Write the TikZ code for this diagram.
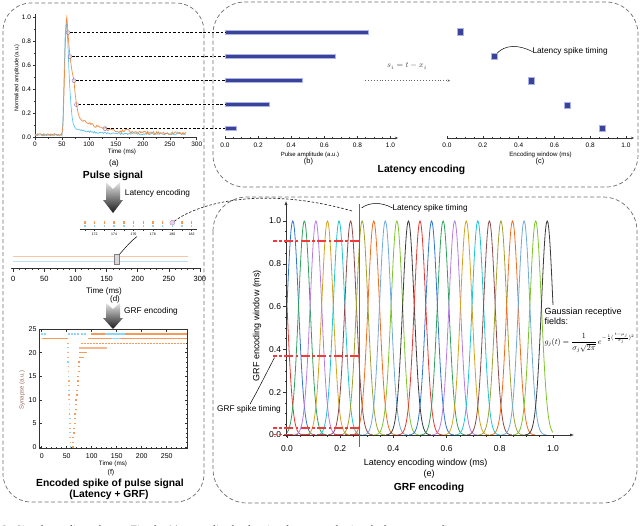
\documentclass[tikz,border=0pt]{standalone}
\usepackage{amsmath}
\usepackage{graphicx}
\usepackage{fontspec}
\setmainfont{Liberation Sans}
\newfontfamily\capfont{Liberation Serif}
\usetikzlibrary{arrows.meta}
\newcommand{\fsz}[1]{\fontsize{#1}{#1}\selectfont}
\definecolor{panelgray}{HTML}{6E6E6E}
\definecolor{barblue}{HTML}{3B4399}
\definecolor{baredge}{HTML}{A9B2EA}
\definecolor{sigO}{HTML}{F28C45}
\definecolor{sigB}{HTML}{5EC4F0}
\definecolor{spkO}{HTML}{F39A5A}
\definecolor{spkB}{HTML}{8ED4F4}
\definecolor{lineO}{HTML}{F7C59F}
\definecolor{lineB}{HTML}{B8E2F4}
\definecolor{purp}{HTML}{8B4D9C}
\definecolor{redl}{HTML}{F23A3A}
\definecolor{circ}{HTML}{8A86C8}
\definecolor{synl}{HTML}{9A6A60}
\definecolor{gc0}{HTML}{E8352F}
\definecolor{gc1}{HTML}{2F74D0}
\definecolor{gc2}{HTML}{2EA05A}
\definecolor{gc3}{HTML}{B57BE6}
\definecolor{gc4}{HTML}{D4A21C}
\definecolor{gc5}{HTML}{1DC3CF}
\definecolor{gc6}{HTML}{8A4B4B}
\definecolor{gc7}{HTML}{A0A030}
\definecolor{gc8}{HTML}{F26B1D}
\definecolor{gc9}{HTML}{6FA8DC}
\definecolor{gc10}{HTML}{7CC42A}
\definecolor{gc11}{HTML}{3A3A3A}
\begin{document}
\begin{tikzpicture}[x=1pt,y=-1pt,
  every node/.style={inner sep=0pt, outer sep=0pt},
  panel/.style={draw=panelgray, dash pattern=on 4pt off 2.5pt, line width=0.7pt},
  ax/.style={line width=0.5pt, black!80},
  hdash/.style={black, dash pattern=on 2.5pt off 1.8pt, line width=0.8pt},
  bar/.style={fill=barblue, draw=baredge, line width=0.6pt, minimum height=4pt, anchor=west},
  sq/.style={fill=barblue, draw=baredge, line width=0.5pt, minimum size=6.5pt},
  tinyl/.style={font=\fsz{3.5}},
  ticka/.style={font=\fsz{6.5}},
  tickd/.style={font=\fsz{7.5}},
  tickg/.style={font=\fsz{8.5}},
  lbl/.style={font=\fsz{8.3}},
  lblg/.style={font=\fsz{9}},
  ttl/.style={font=\bfseries\fsz{10.3}},
  garrow/.style={top color=gray!20, bottom color=black!90},
  redline/.style={redl, line width=1.4pt, dash pattern=on 9pt off 2.5pt on 2.5pt off 2.5pt},
  conn/.style={black, line width=0.5pt}
]
\useasboundingbox (0,0) rectangle (640,525);

% ---------------- panels ----------------
\draw[panel, rounded corners=28pt] (3,3) rectangle (204,502);
\draw[panel, rounded corners=32pt] (213,2) rectangle (638,187);
\draw[panel, rounded corners=34pt] (213,197) rectangle (637,503);

% ---------------- (a) pulse signal ----------------
\draw[ax] (35,137) -- (35,14);
\draw[ax] (35,137) -- (197,137);
\foreach \i in {0,...,10} \draw[ax] (35,{137-12*\i}) -- ++(-1.5,0);
\foreach \i/\l in {0/0.0,1/0.2,2/0.4,3/0.6,4/0.8,5/1.0} {
  \draw[ax] (35,{137-24*\i}) -- ++(-2.5,0);
  \node[ticka, anchor=east] (ya\i) at (31,{137-24*\i}) {\l};
}
\foreach \i in {0,...,12} \draw[ax] ({35+13.475*\i},137) -- ++(0,1.5);
\foreach \i/\l in {0/0,1/50,2/100,3/150,4/200,5/250,6/300} {
  \draw[ax] ({35+26.95*\i},137) -- ++(0,2.5);
  \node[ticka] (xa\i) at ({35+26.95*\i},144.5) {\l};
}
\node[rotate=90, font=\fsz{5.5}] (yla) at (17,78) {Normalized amplitude (a.u.)};
\node[font=\fsz{6.3}] (xla) at (122,152) {Time (ms)};
\node[font=\fsz{8}] (capa) at (114,163.5) {(a)};
\node[ttl] (ttla) at (113,176) {Pulse signal};

\pgfmathsetseed{11}
% blue signal
\draw[sigB, line width=0.7pt]
  plot[domain=0:50, samples=45] ({35+0.539*\x},{137-120*(0.015+0.006*rand)})
  -- plot coordinates {({35+0.539*52},{137-120*0.15}) ({35+0.539*54},{137-120*0.5}) ({35+0.539*56},{137-120*0.85})
     ({35+0.539*58},{137-120*0.95}) ({35+0.539*59},{137-120*0.93}) ({35+0.539*61},{137-120*0.78})
     ({35+0.539*63},{137-120*0.55}) ({35+0.539*65},{137-120*0.38}) ({35+0.539*67},{137-120*0.25})
     ({35+0.539*69},{137-120*0.16}) ({35+0.539*71},{137-120*0.11}) ({35+0.539*74},{137-120*0.08})}
  -- plot[domain=77:280, samples=110] ({35+0.539*\x},{137-120*(0.025+0.045*exp(-(\x-77)/30)+0.007*rand)});
% orange signal
\draw[sigO, line width=0.7pt]
  plot[domain=0:50, samples=45] ({35+0.539*\x},{137-120*(0.022+0.007*rand)})
  -- plot coordinates {({35+0.539*52},{137-120*0.1}) ({35+0.539*54},{137-120*0.4}) ({35+0.539*56},{137-120*0.75})
     ({35+0.539*58},{137-120*0.97}) ({35+0.539*59},{137-120*1.0}) ({35+0.539*60},{137-120*0.95})
     ({35+0.539*61.2},{137-120*0.87}) ({35+0.539*63},{137-120*0.76}) ({35+0.539*65},{137-120*0.67})
     ({35+0.539*67},{137-120*0.6}) ({35+0.539*69},{137-120*0.54}) ({35+0.539*72.4},{137-120*0.47})
     ({35+0.539*74},{137-120*0.38}) ({35+0.539*77},{137-120*0.27}) ({35+0.539*80},{137-120*0.2})}
  -- plot[domain=82:280, samples=110] ({35+0.539*\x},{137-120*(0.03+0.14*exp(-(\x-80)/40)+0.012*rand+0.03*exp(-((\x-170)/3)^2))});

\foreach \i/\x/\y in {1/68/32.6, 2/70/56.6, 3/74/80.6, 4/76.5/104.6, 5/105/128.6}
  \node[circle, draw=circ, line width=0.5pt, minimum size=4pt] (c\i) at (\x,\y) {};

% ---------------- (b) bars ----------------
\foreach \i/\v/\y in {1/0.87/32.6, 2/0.67/56.6, 3/0.47/80.6, 4/0.27/104.6, 5/0.07/128.6}
  \node[bar, minimum width={165*\v}] (b\i) at (225,\y) {};
\foreach \i in {1,...,5} \draw[hdash] (c\i) -- (b\i.west);

\draw[ax, -{Stealth[length=3pt,width=2.5pt]}] (225,138) -- (398,138);
\foreach \k in {0,...,20} \draw[ax] ({225+8.275*\k},138) -- ++(0,-1.5);
\foreach \i/\l in {0/0.0,1/0.2,2/0.4,3/0.6,4/0.8,5/1.0} {
  \draw[ax] ({225+33.1*\i},138) -- ++(0,-2.5);
  \node[ticka] (xb\i) at ({225+33.1*\i},145.7) {\l};
}
\node[font=\fsz{6}] (xlb) at (310,155) {Pulse amplitude (a.u.)};
\node[font=\fsz{7.4}] (capb) at (308.5,161.5) {(b)};

% equation and dotted arrow
\node[font=\fsz{8.5}, text=black!70] (eqn) at (407,66) {$s_i = t - x_i$};
\coordinate (da) at (365,80.6);
\coordinate (db) at (450,80.6);
\draw[black!60, dotted, line width=0.9pt, -{Stealth[length=2.5pt,width=2.5pt]}] (da) -- (db);

% ---------------- (c) squares ----------------
\foreach \i/\x/\y in {1/460/31.9, 2/494/56.3, 3/531/80.6, 4/567/105, 5/602/128.4}
  \node[sq] (s\i) at (\x,\y) {};
\draw[ax, -{Stealth[length=3pt,width=2.5pt]}] (447,138) -- (634,138);
\foreach \k in {0,...,20} \draw[ax] ({447+8.95*\k},138) -- ++(0,-1.5);
\foreach \i/\l in {0/0.0,1/0.2,2/0.4,3/0.6,4/0.8,5/1.0} {
  \draw[ax] ({447+35.8*\i},138) -- ++(0,-2.5);
  \node[ticka] (xc\i) at ({447+35.8*\i},145.7) {\l};
}
\node[font=\fsz{6.2}] (xlc) at (540.5,155) {Encoding window (ms)};
\node[font=\fsz{7.4}] (capc) at (540,161.5) {(c)};
\node[lbl, anchor=west] (lst1) at (532.5,51.7) {Latency spike timing};
\draw[conn] (s2.north east) .. controls (505,45) and (518,44) .. (lst1.west);
\node[ttl] (ttlb) at (421.5,170) {Latency encoding};

% ---------------- arrow 1 and (d) ----------------
\shade[garrow] (106,182) -- (113,189) -- (120,182) -- (120,200) -- (123,200) -- (113,213) -- (103,200) -- (106,200) -- cycle;
\node[lbl] (lenc) at (157.5,193.5) {Latency encoding};

\foreach \k in {0,...,11} {
  \pgfmathsetmacro\xx{85+9.7*\k}
  \fill[spkO] (\xx-0.7,221.4) rectangle (\xx+0.7,223.8);
  \fill[spkB] (\xx-0.7,224.6) rectangle (\xx+0.7,226.8);
}
\node[circle, draw=purp!60, fill=purp!25, line width=0.4pt, minimum size=5pt] (hl) at (172.3,222.7) {};
\draw[ax] (80,229.3) -- (197,229.3);
\foreach \k in {0,...,11} \draw[ax] ({85+9.7*\k},229.3) -- ++(0,1.5);
\foreach \i/\l in {0/172,1/174,2/176,3/178,4/180,5/182}
  \node[tinyl] (xs\i) at ({94.7+19.4*\i},234) {\l};

\draw[lineO, line width=1pt] (13.3,256.7) -- (187.5,256.7);
\draw[lineB, line width=1pt] (13.3,261.7) -- (187.5,261.7);
\node[draw=gray, fill=gray!30, line width=0.4pt, minimum width=5.5pt, minimum height=10pt] (zr) at (116.7,259.3) {};
\coordinate (zax) at (137,236.5);
\draw[conn] (zr.north east) .. controls (126,247) and (131,241) .. (zax);

\draw[ax] (11,268) -- (200,268);
\foreach \k in {0,...,30} \draw[ax] ({13.3+6.22*\k},268) -- ++(0,2);
\foreach \i/\l in {0/0,1/50,2/100,3/150,4/200,5/250,6/300} {
  \draw[ax] ({13.3+31.1*\i},268) -- ++(0,3.5);
  \node[tickd] (xd\i) at ({13.3+31.1*\i},278.5) {\l};
}
\node[font=\fsz{8}] (xld) at (104,291) {Time (ms)};
\node[font=\fsz{8}] (capd) at (115,299) {(d)};

% ---------------- arrow 2 and (f) ----------------
\shade[garrow] (106,303) -- (113,309) -- (120,303) -- (120,318) -- (123,318) -- (113,329) -- (103,318) -- (106,318) -- cycle;
\node[lbl] (genc) at (151,311) {GRF encoding};

\draw[ax] (39,329) rectangle (187,448);
\foreach \k in {0,...,28} {
  \draw[ax] ({41.7+5*\k},448) -- ++(0,-1.2);
  \draw[ax] ({41.7+5*\k},329) -- ++(0,1.2);
}
\foreach \i/\l in {0/0,1/50,2/100,3/150,4/200,5/250} {
  \draw[ax] ({41.7+25*\i},448) -- ++(0,-2.5);
  \draw[ax] ({41.7+25*\i},329) -- ++(0,2.5);
  \node[font=\fsz{7}] (xf\i) at ({41.7+25*\i},456) {\l};
}
\foreach \k in {0,...,25} {
  \draw[ax] (39,{447-4.72*\k}) -- ++(1.2,0);
  \draw[ax] (187,{447-4.72*\k}) -- ++(-1.2,0);
}
\foreach \i/\l in {0/0,1/5,2/10,3/15,4/20,5/25} {
  \draw[ax] (39,{447-23.6*\i}) -- ++(2.5,0);
  \draw[ax] (187,{447-23.6*\i}) -- ++(-2.5,0);
  \node[font=\fsz{7}, anchor=east] (yf\i) at (36.5,{447-23.6*\i}) {\l};
}
\node[rotate=90, font=\fsz{6}, text=synl] (ylf) at (22,390) {Synapse (a.u.)};
\node[font=\fsz{6.3}] (xlf) at (113,464) {Time (ms)};
\node[font=\fsz{7}] (capf) at (111,473) {(f)};
\node[ttl] (ttlf1) at (110,483.5) {Encoded spike of pulse signal};
\node[ttl] (ttlf2) at (109,494.5) {(Latency + GRF)};

% raster content
\foreach \t in {1,6,54,60,66,72,80,86} \fill[spkB] ({41.7+0.5*\t-0.8},333.3) rectangle ++(1.6,1.2);
\foreach \t in {100,104,...,288} \fill[spkO] ({41.7+0.5*\t-0.8},333.3) rectangle ++(1.7,1.2);
\foreach \t in {128,132,...,164} \fill[spkB] ({41.7+0.5*\t-0.8},333.3) rectangle ++(1.7,1.2);
\draw[spkO, line width=1.3pt] (41.7,338.4) -- (67.7,338.4);
\draw[spkO, line width=1.3pt] (88,338.4) -- (186.7,338.4);
\draw[spkB, line width=1.3pt] (112,338.4) -- (120,338.4);
\foreach \t in {80,86,...,284} \fill[spkO] ({41.7+0.5*\t-0.8},342.6) rectangle ++(1.6,1.2);
\foreach \t in {77,80,...,128} \fill[spkO!70] ({41.7+0.5*\t-0.8},347.3) rectangle ++(1.6,1.2);
\foreach \t in {77,80,...,89} \fill[spkO] ({41.7+0.5*\t-0.8},352) rectangle ++(1.6,1.2);
\fill[spkO] (79.5,356.6) rectangle ++(4.5,1.4);
\foreach \r in {0,...,22} {
  \pgfmathsetmacro\tt{57.5-0.25*\r}
  \pgfmathtruncatemacro\md{mod(\r,3)}
  \ifnum\md=0 \fill[spkB] ({41.7+0.5*\tt-0.8},{447-4.72*\r-0.6}) rectangle ++(1.6,1.2);
  \else \fill[spkO!80] ({41.7+0.5*\tt-0.8},{447-4.72*\r-0.6}) rectangle ++(1.6,1.2); \fi
}
\foreach \r in {0,...,19} {
  \pgfmathsetmacro\tt{62+0.75*\r}
  \fill[spkO] ({41.7+0.5*\tt-1},{447-4.72*\r-0.6}) rectangle ++(2,1.3);
}

% ---------------- (e) GRF ----------------
\foreach \j in {0,...,23} {
  \pgfmathtruncatemacro\kk{mod(\j,12)}
  \pgfmathsetmacro\muj{(\j-0.5)/23}
  \pgfmathsetmacro\dlo{max(0,\muj-0.085)}
  \pgfmathsetmacro\dhi{min(1,\muj+0.085)}
  \draw[gc\kk, line width=0.8pt] plot[domain=\dlo:\dhi, samples=45, smooth]
    ({287+266*\x},{435-214*exp(-0.5*((\x-\muj)*46)*((\x-\muj)*46))});
}
\draw[ax, -{Latex[length=4pt,width=3pt]}] (286,437) -- (286,201);
\draw[ax, -{Latex[length=4pt,width=3pt]}] (284,435) -- (574,435);
\foreach \k in {0,...,20} {
  \draw[ax] (286,{435-10.7*\k}) -- ++(-1.5,0);
  \draw[ax] ({287+13.3*\k},435) -- ++(0,1.5);
}
\foreach \i/\l in {0/0.0,1/0.2,2/0.4,3/0.6,4/0.8,5/1.0} {
  \draw[ax] (286,{435-42.8*\i}) -- ++(-3,0);
  \draw[ax] ({287+53.2*\i},435) -- ++(0,3);
  \node[tickg, anchor=east] (gy\i) at (281,{435-42.8*\i}) {\l};
  \node[tickg] (gx\i) at ({287+53.2*\i},448.3) {\l};
}
\node[rotate=90, lblg] (gyl) at (257,325.5) {GRF encoding window (ms)};
\node[lblg] (gxl) at (425.7,463.5) {Latency encoding window (ms)};
\node[lblg] (cape) at (429,474) {(e)};
\node[ttl] (ttle) at (429,488) {GRF encoding};

\foreach \y in {241,356,428,434.3} \draw[redline] (359,\y) -- (273,\y);
\coordinate (pt) at (359.5,204);
\coordinate (pb) at (359.5,447);
\draw[purp, line width=1.8pt] (pt) -- (pb);

\node[lbl, anchor=west] (lst2) at (392.5,208) {Latency spike timing};
\draw[conn] (361.5,208) .. controls (368,203) and (380,201) .. (lst2.west);

\node[lbl] (gst) at (249,409) {GRF spike timing};
\coordinate (rl2) at (274.5,357.5);
\draw[conn] (gst.north) ++(1,-1) .. controls (258,390) and (268,370) .. (rl2);

\node[align=left, anchor=north west, font=\fontsize{9}{10}\selectfont] (gauss) at (544.5,307.5) {Gaussian receptive\\fields:};
\node[anchor=west] (frm) at (544.5,343) {\resizebox{90pt}{!}{$g_j(t)=\dfrac{1}{\sigma_j\sqrt{2\pi}}\,e^{-\frac{1}{2}(\frac{t-\mu_j}{\sigma_j})^2}$}};

% connector from highlighted spike to GRF plot
\coordinate (gtop) at (352,211);
\draw[black!80, dash pattern=on 2.5pt off 1.8pt, line width=0.7pt] (hl) .. controls (200,202) and (265,186) .. (gtop);

% cropped caption line
\node[anchor=base west, font=\capfont\fsz{11}] (cap) at (2,533.5) {2.\ \ Signal encoding scheme.\ \ Fig.\ the (a)\ \ normalized pulse signal\ \ processed using the latency encoding};
\end{tikzpicture}
\end{document}
